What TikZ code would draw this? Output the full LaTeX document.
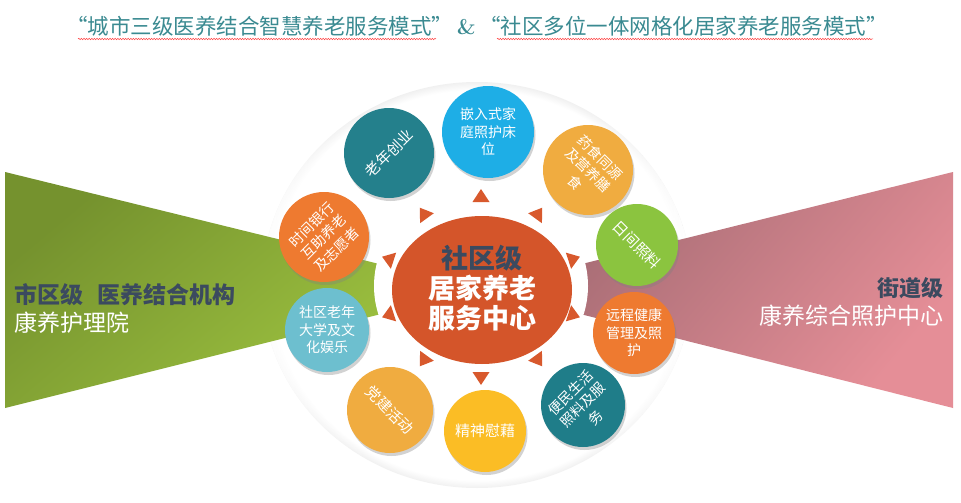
\documentclass[tikz,border=0pt]{standalone}
\usepackage{fontspec}
\newfontfamily\cjk{Noto Sans CJK SC}
\usetikzlibrary{shadows,decorations.pathmorphing,shapes.geometric}
\definecolor{titlec}{HTML}{3A8A91}
\definecolor{darkslate}{HTML}{3B4A5F}
\definecolor{tealA}{HTML}{24808C}
\definecolor{tealB}{HTML}{1F7D89}
\definecolor{skyb}{HTML}{1EAEE6}
\definecolor{lorange}{HTML}{F0AC40}
\definecolor{greenc}{HTML}{8BC43F}
\definecolor{orangec}{HTML}{EE7A30}
\definecolor{lblue}{HTML}{6DBFCF}
\definecolor{yellowc}{HTML}{FBBD25}
\definecolor{centerc}{HTML}{D4552A}
\definecolor{tric}{HTML}{D8592D}
\definecolor{grnA}{HTML}{75922E}
\definecolor{grnB}{HTML}{A2C842}
\definecolor{redA}{HTML}{9E6870}
\definecolor{redB}{HTML}{E58E97}
\definecolor{diskA}{HTML}{D4D4D4}
\definecolor{diskB}{HTML}{ACACAC}
\pgfdeclareradialshading{diskshade}{\pgfpoint{0bp}{0bp}}{color(0bp)=(white); color(24bp)=(white); color(27bp)=(diskA); color(50bp)=(diskB); color(70bp)=(diskB)}
\tikzset{
  bub/.style={circle, minimum size=#1, inner sep=0pt, draw=none,
    drop shadow={shadow xshift=1.5pt, shadow yshift=-3pt, opacity=0.35}},
  lbl/.style={text=white, align=center, inner sep=0pt,
    font=\cjk\fontsize{14}{17.5}\selectfont},
  lblone/.style={text=white, align=center, inner sep=0pt,
    font=\cjk\fontsize{15}{17}\selectfont},
  squig/.style={draw=red!75, line width=0.5pt, decorate,
    decoration={snake, segment length=2.6pt, amplitude=0.7pt}},
  tri/.style={fill=tric, draw=none}
}
\begin{document}
\begin{tikzpicture}[x=1pt,y=-1pt]
\useasboundingbox (0,0) rectangle (961,503);
\fill[white] (0,0) rectangle (961,503);
% gray disk
\begin{scope}
\clip (477,285) ellipse [x radius=215pt, y radius=203pt];
\shade[shading=diskshade] (477,285) ellipse [x radius=215pt, y radius=203pt];
\foreach \i in {0,...,29}{
  \pgfmathsetmacro\op{(1-(\i+0.5)/30)^1.8}
  \fill[white, opacity=\op] ({262+4.5*\i},75) rectangle ({262+4.5*\i+4.5},495);
  \fill[white, opacity=\op] ({692-4.5*\i},75) rectangle ({692-4.5*\i-4.5},495);
}
\end{scope}
% wedges
\coordinate (apex) at (481,289);
\coordinate (gl1) at (5,172);
\coordinate (gl2) at (5,408);
\coordinate (rr1) at (953,172);
\coordinate (rr2) at (953,408);
\shade[top color=grnA, bottom color=grnB, shading angle=40] (gl1) -- (apex) -- (gl2) -- cycle;
\shade[top color=redA, bottom color=redB, shading angle=50] (rr1) -- (apex) -- (rr2) -- cycle;
% white ring
\fill[white] (481,286) ellipse [x radius=107pt, y radius=100pt];
% triangles
\foreach \a in {18,54,...,342}{
  \fill[tri] ({481+104*cos(\a)},{287-98*sin(\a)})
    -- ({481+92*cos(\a)-8.5*sin(\a)},{287-85*sin(\a)-8.5*cos(\a)})
    -- ({481+92*cos(\a)+8.5*sin(\a)},{287-85*sin(\a)+8.5*cos(\a)}) -- cycle;
}
% center
\node[ellipse, minimum width=180pt, minimum height=148pt, fill=centerc, inner sep=0pt] (ctr) at (482,290) {};
\node[align=center, inner sep=0pt, font=\cjk\bfseries\fontsize{27}{30}\selectfont] (ctrtxt) at (482,288)
  {\textcolor{darkslate}{社区级}\\\textcolor{white}{居家养老}\\\textcolor{white}{服务中心}};
% bubbles
\node[bub=90pt, fill=tealA] (c1) at (389,153) {};
\node[lblone, rotate=45] (t1) at (c1.center) {老年创业};
\node[bub=92pt, fill=skyb] (c2) at (488,132) {};
\node[lbl] (t2) at (c2.center) {嵌入式家\\庭照护床\\位};
\node[bub=90pt, fill=lorange] (c3) at (588,170) {};
\node[lbl, rotate=-45] (t3) at (c3.center) {药食同源\\及营养膳\\食};
\node[bub=82pt, fill=greenc] (c4) at (637,245) {};
\node[lblone, rotate=-45] (t4) at (c4.center) {日间照料};
\node[bub=82pt, fill=orangec] (c5) at (634,333) {};
\node[lbl] (t5) at (c5.center) {远程健康\\管理及照\\护};
\node[bub=84pt, fill=tealB] (c6) at (583,405) {};
\node[lbl, rotate=45] (t6) at (c6.center) {便民生活\\照料及服\\务};
\node[bub=82pt, fill=yellowc] (c7) at (485,431) {};
\node[lblone] (t7) at (c7.center) {精神慰藉};
\node[bub=86pt, fill=lorange] (c8) at (390,410) {};
\node[lblone, rotate=-45] (t8) at (c8.center) {党建活动};
\node[bub=84pt, fill=lblue] (c9) at (327,330) {};
\node[lbl] (t9) at (c9.center) {社区老年\\大学及文\\化娱乐};
\node[bub=90pt, fill=orangec] (c10) at (324,237) {};
\node[lbl, rotate=45] (t10) at (c10.center) {时间银行\\互助养老\\及志愿者};
% side labels
\node[anchor=west, inner sep=0pt, text=darkslate, font=\cjk\bfseries\fontsize{23}{25}\selectfont] (lv1) at (14,295) {市区级\hspace{0.6em}医养结合机构};
\node[anchor=west, inner sep=0pt, text=white, font=\cjk\fontsize{23}{25}\selectfont] (lv2) at (14,323) {康养护理院};
\node[anchor=east, inner sep=0pt, text=darkslate, font=\cjk\bfseries\fontsize{22}{24}\selectfont] (rv1) at (944,288) {街道级};
\node[anchor=east, inner sep=0pt, text=white, font=\cjk\fontsize{23}{25}\selectfont] (rv2) at (944,316) {康养综合照护中心};
% title
\node[inner sep=0pt, text=titlec, font=\cjk\fontsize{21.5}{24}\selectfont] (title) at (477,26)
  {“城市三级医养结合智慧养老服务模式”\,{\rmfamily\bfseries\&}\,“社区多位一体网格化居家养老服务模式”};
\draw[squig] (78,39) -- (436,39);
\draw[squig] (497,39) -- (873,39);
\end{tikzpicture}
\end{document}
